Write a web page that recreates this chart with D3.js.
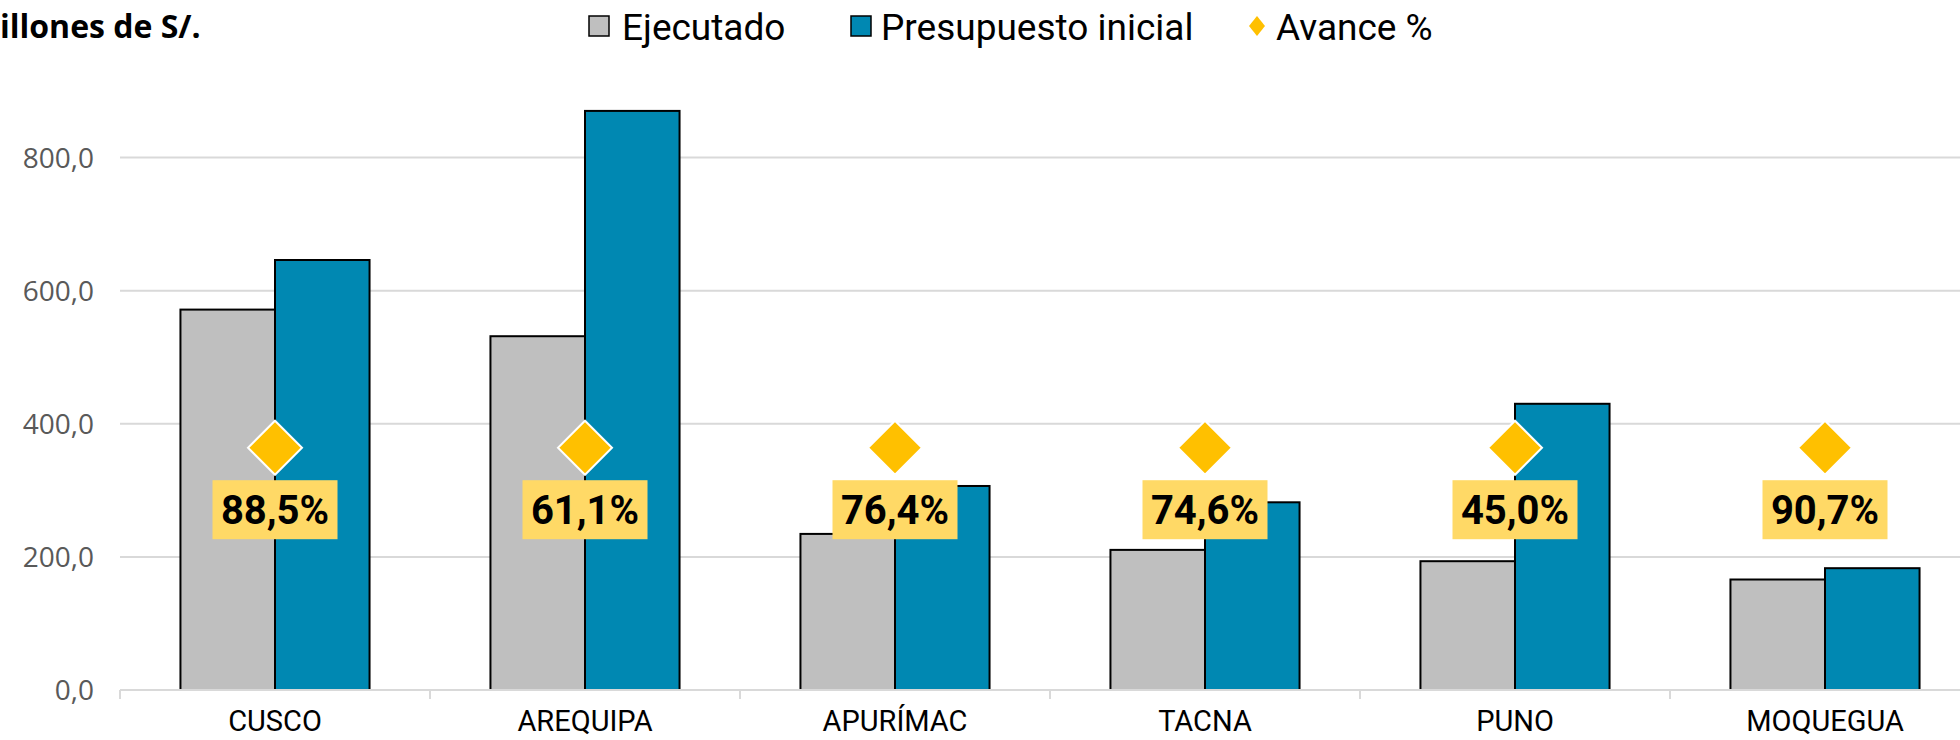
<!DOCTYPE html>
<html>
<head>
<meta charset="utf-8">
<script src="https://cdn.jsdelivr.net/npm/d3@7"></script>
<style>
  body { margin: 0; background: #fff; }
  svg { display: block; }
</style>
</head>
<body>
<svg id="chart" width="1960" height="740"></svg>
<script>
// data
var regiones = ["CUSCO", "AREQUIPA", "APURÍMAC", "TACNA", "PUNO", "MOQUEGUA"];
var ejecutado = [571.5, 531.5, 234.5, 210.5, 193.5, 166.0];
var presupuesto = [646.0, 870.0, 306.5, 282.0, 430.0, 183.0];
var avance = ["88,5%", "61,1%", "76,4%", "74,6%", "45,0%", "90,7%"];
var nivelAvance = 364; // height where the Avance % markers sit
var yTicks = [0, 200, 400, 600, 800];

var svg = d3.select("#chart");
var left = 120, right = 1980, bottom = 690;

var x = d3.scaleBand().domain(regiones).range([left, right]);
var x1 = d3.scaleBand().domain(["ej", "pr"])
  .range([x.bandwidth() * 0.195, x.bandwidth() * 0.805]);
var y = d3.scaleLinear().domain([0, 800]).range([bottom, 157.5]);

var fmt = function(d) { return d3.format(".1f")(d).replace(".", ","); };

// gridlines
svg.append("g").selectAll("line")
  .data(yTicks.slice(1))
  .join("line")
  .attr("x1", left).attr("x2", 1960)
  .attr("y1", d => y(d)).attr("y2", d => y(d))
  .attr("stroke", "#d9d9d9").attr("stroke-width", 2);

// y axis labels
var yAxis = d3.axisLeft(y).tickValues(yTicks).tickFormat(fmt).tickSize(0).tickPadding(26);
var ya = svg.append("g").attr("transform", "translate(" + left + ",0)").call(yAxis);
ya.select(".domain").remove();
ya.selectAll("text")
  .attr("fill", "#595959")
  .style("font-family", "'Open Sans', sans-serif")
  .style("font-size", "28px")
  .attr("dy", "0.35em");

// bars
var grp = svg.append("g").selectAll("g")
  .data(regiones)
  .join("g")
  .attr("transform", d => "translate(" + x(d) + ",0)");

grp.append("rect")
  .attr("x", x1("ej")).attr("width", x1.bandwidth())
  .attr("y", (d, i) => y(ejecutado[i]))
  .attr("height", (d, i) => y(0) - y(ejecutado[i]))
  .attr("fill", "#bfbfbf").attr("stroke", "#000").attr("stroke-width", 2);

grp.append("rect")
  .attr("x", x1("pr")).attr("width", x1.bandwidth())
  .attr("y", (d, i) => y(presupuesto[i]))
  .attr("height", (d, i) => y(0) - y(presupuesto[i]))
  .attr("fill", "#0088b2").attr("stroke", "#000").attr("stroke-width", 2);

// x axis
var xa = svg.append("g").attr("transform", "translate(0," + bottom + ")");
xa.append("line").attr("x1", left).attr("x2", 1960)
  .attr("stroke", "#d9d9d9").attr("stroke-width", 2);
xa.selectAll(".tk")
  .data(regiones)
  .join("line")
  .attr("class", "tk")
  .attr("x1", d => x(d)).attr("x2", d => x(d))
  .attr("y1", 0).attr("y2", 9)
  .attr("stroke", "#d9d9d9").attr("stroke-width", 2);
xa.selectAll("text")
  .data(regiones)
  .join("text")
  .attr("x", d => x(d) + x.bandwidth() / 2)
  .attr("y", 41)
  .attr("text-anchor", "middle")
  .style("font-family", "Roboto, sans-serif")
  .style("font-size", "29px")
  .text(d => d);

// avance markers and labels
var diamond = function(cx, cy, w, h) {
  return "M" + cx + "," + (cy - h) + "L" + (cx + w) + "," + cy + "L" + cx + "," + (cy + h) + "L" + (cx - w) + "," + cy + "Z";
};
var cxOf = d => x(d) + x.bandwidth() / 2;

svg.append("g").selectAll("path")
  .data(regiones)
  .join("path")
  .attr("d", d => diamond(cxOf(d), y(nivelAvance), 27, 27))
  .attr("fill", "#ffc000").attr("stroke", "#fff").attr("stroke-width", 2);

var lab = svg.append("g").selectAll("g")
  .data(regiones)
  .join("g")
  .attr("transform", d => "translate(" + cxOf(d) + "," + (y(nivelAvance) + 62) + ")");
lab.append("rect")
  .attr("x", -62.5).attr("y", -29.5).attr("width", 125).attr("height", 59)
  .attr("fill", "#ffd966");
lab.append("text")
  .attr("text-anchor", "middle").attr("dy", "0.36em")
  .style("font-family", "Roboto, sans-serif")
  .style("font-weight", "bold")
  .style("font-size", "40px")
  .text((d, i) => avance[i]);

// title (cut at the left edge)
svg.append("text")
  .attr("x", 0).attr("y", 38)
  .style("font-family", "'Open Sans', sans-serif")
  .style("font-weight", "bold")
  .style("font-size", "32px")
  .text("illones de S/.");

// legend
var lg = svg.append("g");
lg.append("rect").attr("x", 589).attr("y", 16).attr("width", 20).attr("height", 20)
  .attr("fill", "#bfbfbf").attr("stroke", "#000").attr("stroke-width", 1.5);
lg.append("rect").attr("x", 851).attr("y", 16).attr("width", 20).attr("height", 20)
  .attr("fill", "#0088b2").attr("stroke", "#000").attr("stroke-width", 1.5);
lg.append("path").attr("d", diamond(1257, 26, 8, 10)).attr("fill", "#ffc000");
var legText = [["Ejecutado", 622], ["Presupuesto inicial", 881], ["Avance %", 1276]];
lg.selectAll("text")
  .data(legText)
  .join("text")
  .attr("x", d => d[1]).attr("y", 40)
  .style("font-family", "Roboto, sans-serif")
  .style("font-size", "37px")
  .text(d => d[0]);
</script>
</body>
</html>
